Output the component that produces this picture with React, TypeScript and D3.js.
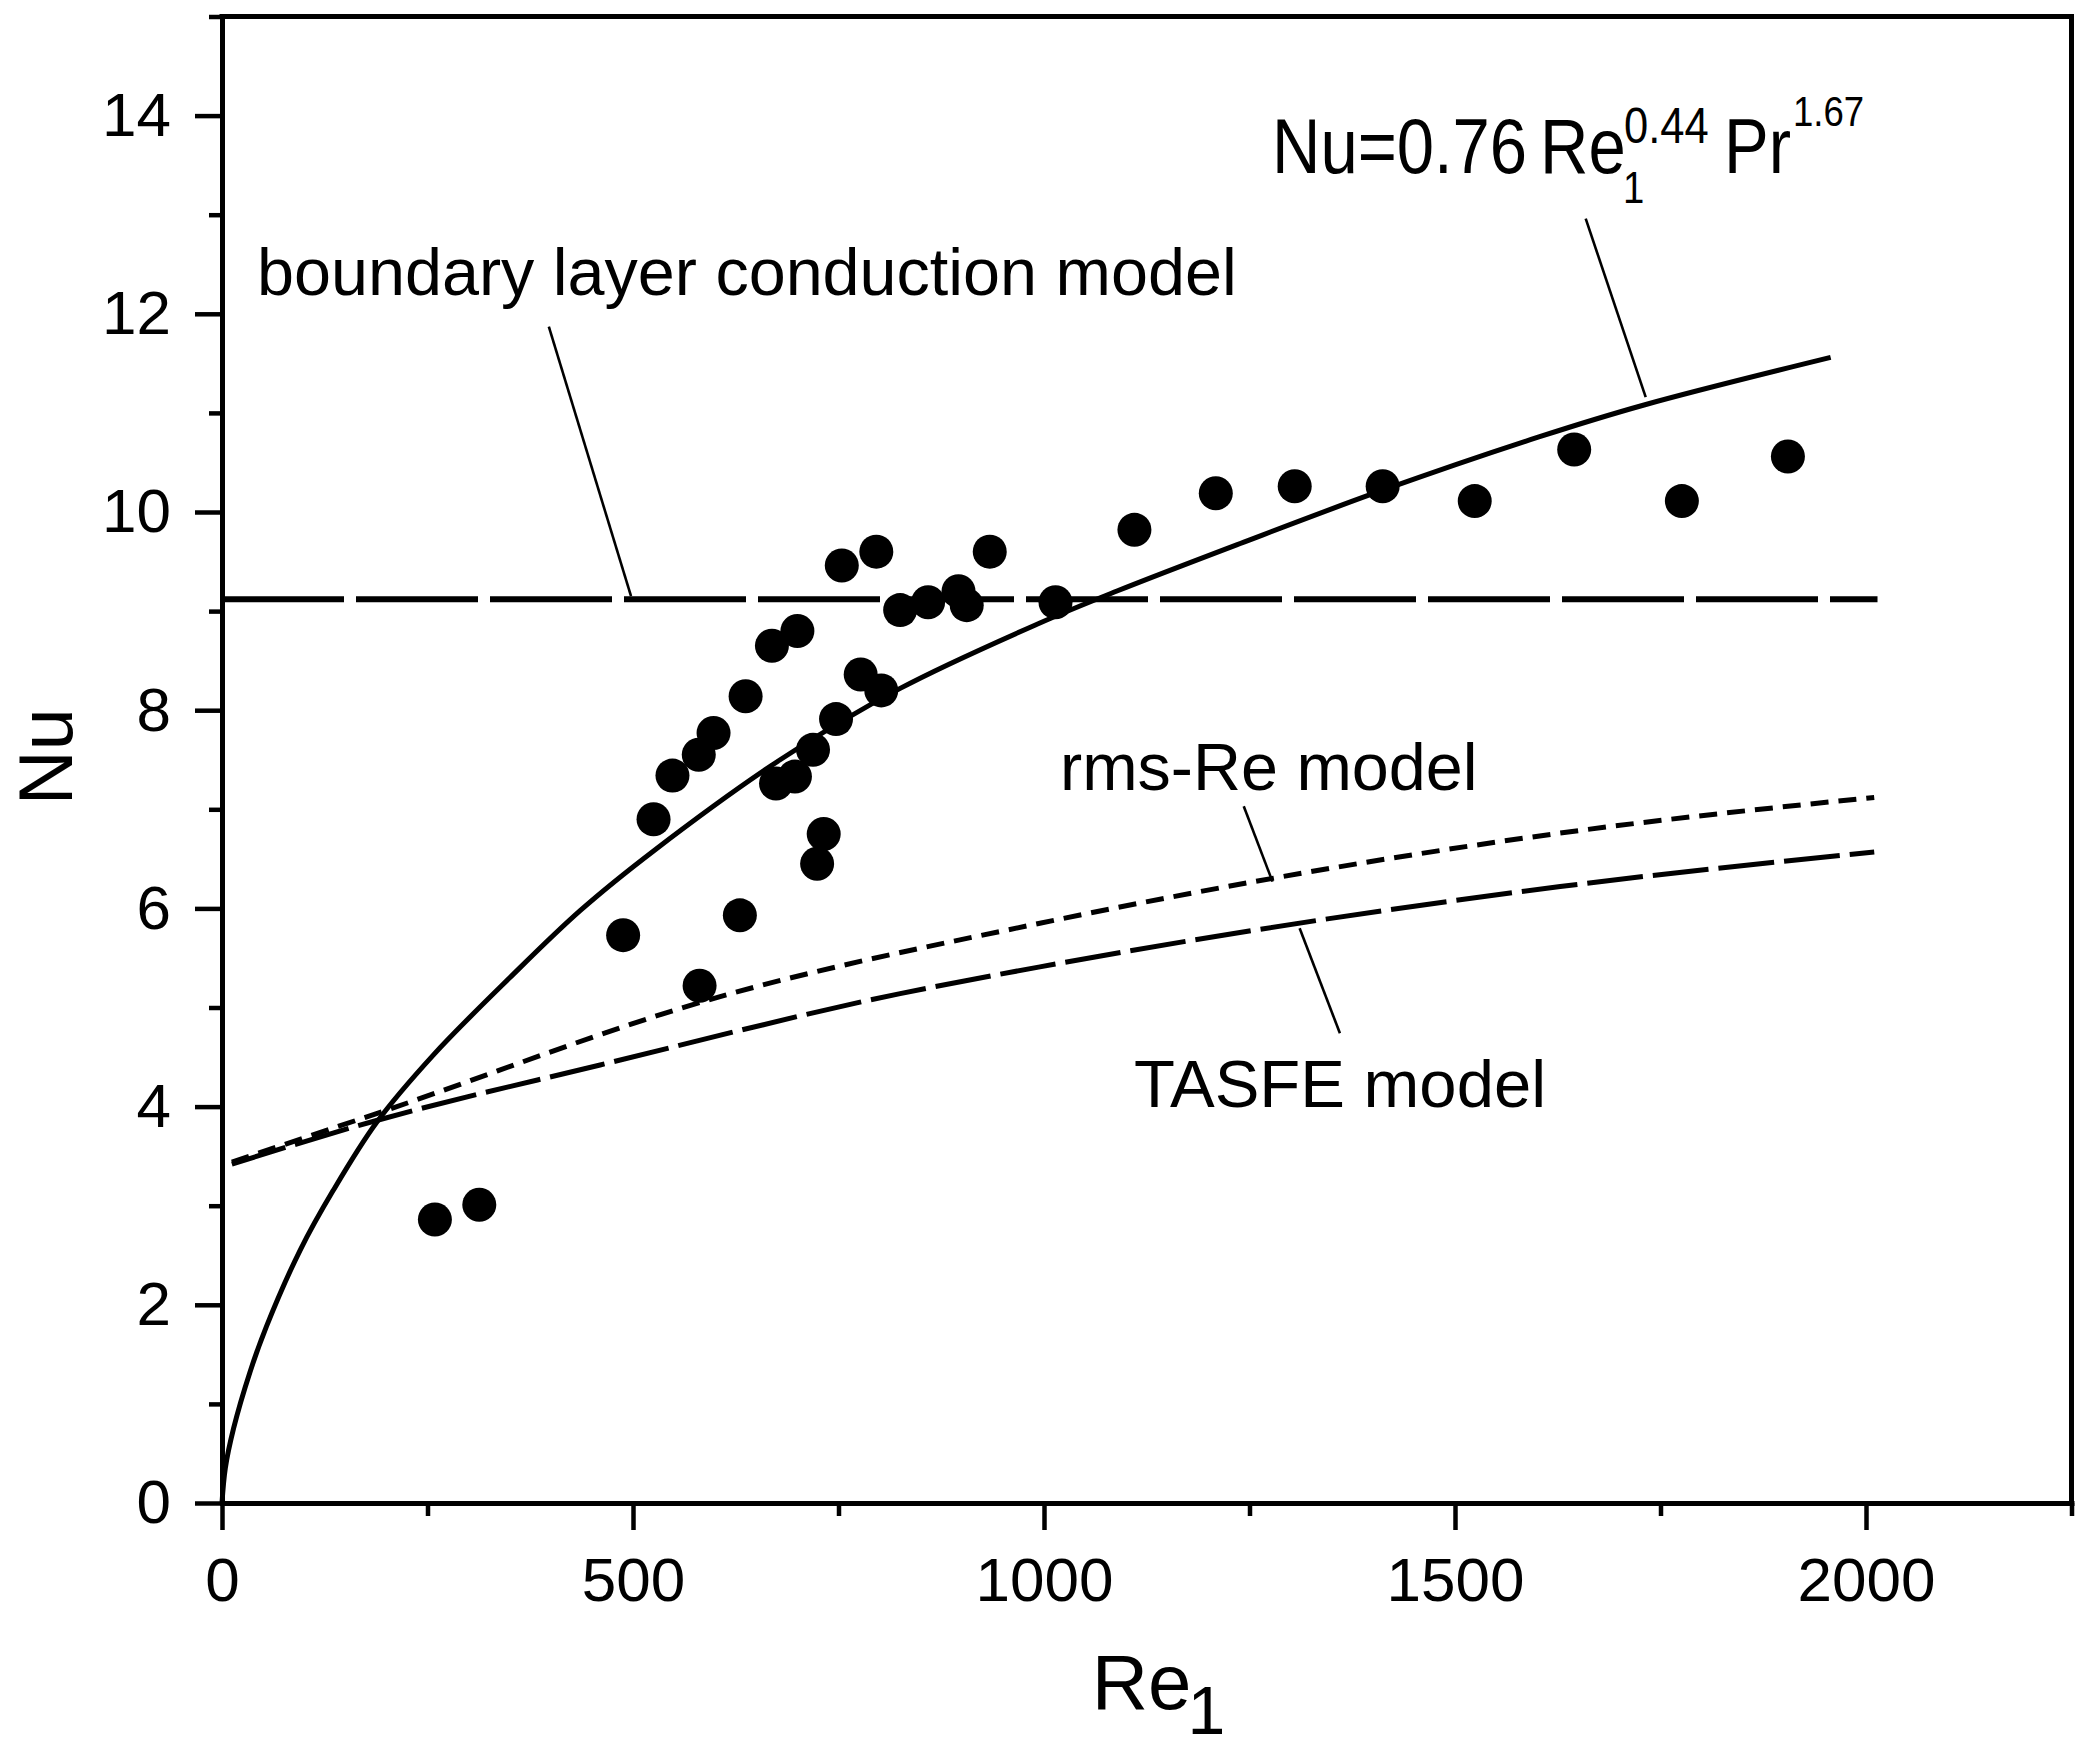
import React, { useRef, useEffect } from "react";
import * as d3 from "d3";

const WIDTH = 2083;
const HEIGHT = 1751;

// measured points, Re1 vs Nu
const pointRe = [
  259, 313, 488, 525, 548, 580, 581, 598, 630, 637, 669, 674, 697, 700, 719,
  724, 732, 747, 754, 777, 796, 802, 825, 859, 896, 906, 934, 1014, 1110,
  1209, 1305, 1412, 1524, 1645, 1776, 1905,
];
const pointNu = [
  2.86, 3.01, 5.73, 6.9, 7.34, 7.55, 5.22, 7.77, 5.93, 8.14, 8.65, 7.26, 7.33,
  8.8, 7.6, 6.45, 6.75, 7.91, 9.46, 8.36, 9.6, 8.2, 9.01, 9.09, 9.2, 9.06, 9.6,
  9.09, 9.82, 10.19, 10.26, 10.26, 10.11, 10.63, 10.11, 10.56,
];

// correlation Nu=0.76 Re^0.44 Pr^1.67
const fitRe = [0, 4, 14, 34, 54, 95, 135, 188, 257, 350, 436, 525, 679, 825, 995, 1088, 1238, 1412, 1603, 1730, 1957];
const fitNu = [0, 0.35, 0.75, 1.32, 1.78, 2.55, 3.15, 3.84, 4.52, 5.3, 5.98, 6.58, 7.5, 8.22, 8.88, 9.2, 9.68, 10.22, 10.76, 11.08, 11.56];

// rms-Re model
const rmsRe = [12, 188, 606, 995, 1628, 2010];
const rmsNu = [3.44, 3.93, 5.11, 5.85, 6.76, 7.12];

// TASFE model
const tasfeRe = [12, 188, 460, 825, 995, 1628, 2010];
const tasfeNu = [3.42, 3.86, 4.42, 5.14, 5.41, 6.22, 6.57];

// boundary layer conduction model
const blRe = [0, 2014];
const blNu = [9.12, 9.12];

const xMajorTicks = [0, 500, 1000, 1500, 2000];
const xMinorTicks = [250, 750, 1250, 1750, 2250];
const yMajorTicks = [0, 2, 4, 6, 8, 10, 12, 14];
const yMinorTicks = [1, 3, 5, 7, 9, 11, 13, 15];

const font = "'Liberation Sans', Arial, Helvetica, sans-serif";

const App: React.FC = () => {
  const svg = useRef<SVGSVGElement>(null);

  useEffect(() => {
    const root = d3.select(svg.current);
    root.selectAll("*").remove();

    const x = d3.scaleLinear().domain([0, 2250]).range([222, 2071.5]);
    const y = d3.scaleLinear().domain([0, 15]).range([1503, 16.5]);

    root.append("rect").attr("width", WIDTH).attr("height", HEIGHT).attr("fill", "#fff");

    // top + right frame
    root
      .append("path")
      .attr("d", `M${x(0)},${y(15)}H${x(2250)}V${y(0)}`)
      .attr("fill", "none")
      .attr("stroke", "#000")
      .attr("stroke-width", 5)
      .attr("stroke-linecap", "square");

    const styleAxis = (g: any, showText: boolean) => {
      g.select(".domain").attr("stroke-width", 5).attr("stroke-linecap", "square");
      g.selectAll(".tick line").attr("stroke-width", 4.5);
      g.selectAll(".tick text")
        .attr("font-family", font)
        .attr("font-size", 62)
        .attr("fill", "#000")
        .style("display", showText ? null : "none");
      g.attr("font-family", null).attr("font-size", null);
    };

    const xMinor = root
      .append("g")
      .attr("transform", `translate(0,${y(0)})`)
      .call(d3.axisBottom(x).tickValues(xMinorTicks).tickSize(13).tickFormat(() => ""));
    xMinor.select(".domain").remove();
    styleAxis(xMinor, false);

    const yMinor = root
      .append("g")
      .attr("transform", `translate(${x(0)},0)`)
      .call(d3.axisLeft(y).tickValues(yMinorTicks).tickSize(13).tickFormat(() => ""));
    yMinor.select(".domain").remove();
    styleAxis(yMinor, false);

    const xAxis = root
      .append("g")
      .attr("transform", `translate(0,${y(0)})`)
      .call(
        d3
          .axisBottom(x)
          .tickValues(xMajorTicks)
          .tickSize(27)
          .tickSizeOuter(0)
          .tickPadding(27)
          .tickFormat(d3.format("d"))
      );
    styleAxis(xAxis, true);

    const yAxis = root
      .append("g")
      .attr("transform", `translate(${x(0)},0)`)
      .call(
        d3
          .axisLeft(y)
          .tickValues(yMajorTicks)
          .tickSize(27)
          .tickSizeOuter(0)
          .tickPadding(24)
          .tickFormat(d3.format("d"))
      );
    styleAxis(yAxis, true);

    const line = d3
      .line<[number, number]>()
      .x((d) => x(d[0]))
      .y((d) => y(d[1]))
      .curve(d3.curveMonotoneX);

    const smooth = d3
      .line<[number, number]>()
      .x((d) => x(d[0]))
      .y((d) => y(d[1]))
      .curve(d3.curveCatmullRom.alpha(0.5));

    const zip = (a: number[], b: number[]) => a.map((v, i) => [v, b[i]] as [number, number]);

    // boundary layer model
    root
      .append("path")
      .attr("d", line(zip(blRe, blNu)))
      .attr("fill", "none")
      .attr("stroke", "#000")
      .attr("stroke-width", 6)
      .attr("stroke-dasharray", "122 12");

    // TASFE
    root
      .append("path")
      .attr("d", line(zip(tasfeRe, tasfeNu)))
      .attr("fill", "none")
      .attr("stroke", "#000")
      .attr("stroke-width", 5)
      .attr("stroke-dasharray", "56 10");

    // rms-Re
    root
      .append("path")
      .attr("d", line(zip(rmsRe, rmsNu)))
      .attr("fill", "none")
      .attr("stroke", "#000")
      .attr("stroke-width", 5)
      .attr("stroke-dasharray", "18 10");

    // correlation
    root
      .append("path")
      .attr("d", smooth(zip(fitRe, fitNu)))
      .attr("fill", "none")
      .attr("stroke", "#000")
      .attr("stroke-width", 5);

    // measured points
    root
      .append("g")
      .selectAll("circle")
      .data(zip(pointRe, pointNu))
      .join("circle")
      .attr("cx", (d) => x(d[0]))
      .attr("cy", (d) => y(d[1]))
      .attr("r", 17)
      .attr("fill", "#000");

    // leader lines [Re0, Nu0, Re1, Nu1]
    const leaders: [number, number, number, number][] = [
      [397.6, 11.87, 497.6, 9.15],
      [1659, 12.96, 1732, 11.16],
      [1243, 7.03, 1278, 6.27],
      [1311, 5.8, 1360, 4.74],
    ];
    root
      .append("g")
      .selectAll("line")
      .data(leaders)
      .join("line")
      .attr("x1", (d) => x(d[0]))
      .attr("y1", (d) => y(d[1]))
      .attr("x2", (d) => x(d[2]))
      .attr("y2", (d) => y(d[3]))
      .attr("stroke", "#000")
      .attr("stroke-width", 2.6);

    const txt = (px: number, py: number, s: string, size: number) =>
      root
        .append("text")
        .attr("x", px)
        .attr("y", py)
        .attr("font-family", font)
        .attr("font-size", size)
        .attr("fill", "#000")
        .text(s);

    // labels
    txt(x(42.6), y(12.19), "boundary layer conduction model", 66.5);
    txt(x(1019.5), y(7.195), "rms-Re model", 66.5);
    txt(x(1109.5), y(3.996), "TASFE model", 67);

    // formula, slightly condensed like the original
    const sx = 0.87;
    const formula = root
      .append("text")
      .attr("transform", `translate(${x(1277.4)},${y(13.42)}) scale(${sx},1)`)
      .attr("font-family", font)
      .attr("fill", "#000");
    const part = (s: string, dx: number, dy: number, size: number) =>
      formula
        .append("tspan")
        .attr("x", dx / sx)
        .attr("y", dy)
        .attr("font-size", size)
        .text(s);
    part("Nu=0.76", 0, 0, 77);
    part("Re", 268, 0, 77);
    part("1", 351, 30, 44);
    part("0.44", 352, -30, 50);
    part("Pr", 452, 0, 77);
    part("1.67", 521, -47, 42);

    // axis titles
    root
      .append("text")
      .attr("transform", `translate(${x(0) - 150},${y(7.53)}) rotate(-90)`)
      .attr("text-anchor", "middle")
      .attr("font-family", font)
      .attr("font-size", 76)
      .attr("fill", "#000")
      .text("Nu");
    const xt = txt(x(1058), y(0) + 206, "Re", 78);
    xt.append("tspan").attr("dx", -4).attr("dy", 25).attr("font-size", 68).text("1");
  }, []);

  return (
    <svg
      ref={svg}
      width={WIDTH}
      height={HEIGHT}
      style={{ position: "absolute", left: 0, top: 0, display: "block" }}
    ></svg>
  );
};

export default App;
